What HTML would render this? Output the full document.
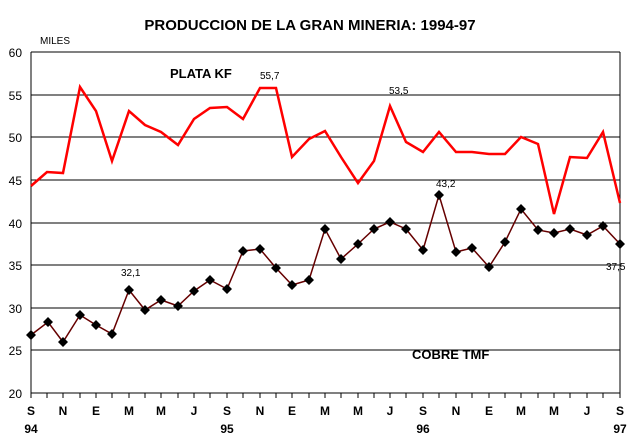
<!DOCTYPE html><html><head><style>body{margin:0;background:#fff}svg{display:block}text{font-family:"Liberation Sans",Arial,sans-serif}</style></head><body>
<svg width="641" height="444" viewBox="0 0 641 444">
<text x="310" y="30" font-size="15" font-weight="bold" text-anchor="middle">PRODUCCION DE LA GRAN MINERIA: 1994-97</text>
<text x="40" y="44" font-size="10">MILES</text>
<g stroke="#000" stroke-width="1">
<line x1="31" y1="52" x2="620" y2="52"/><line x1="31" y1="95" x2="620" y2="95"/><line x1="31" y1="137" x2="620" y2="137"/><line x1="31" y1="180" x2="620" y2="180"/><line x1="31" y1="223" x2="620" y2="223"/><line x1="31" y1="265" x2="620" y2="265"/><line x1="31" y1="308" x2="620" y2="308"/><line x1="31" y1="350" x2="620" y2="350"/>
<line x1="31" y1="52" x2="31" y2="393"/><line x1="620" y1="52" x2="620" y2="393"/><line x1="31" y1="393" x2="620" y2="393"/>
</g>
<g font-size="12" text-anchor="end"><text x="22" y="57">60</text><text x="22" y="100">55</text><text x="22" y="142">50</text><text x="22" y="185">45</text><text x="22" y="228">40</text><text x="22" y="270">35</text><text x="22" y="313">30</text><text x="22" y="355">25</text><text x="22" y="398">20</text></g>
<g id="ticks" stroke="#000"></g>
<g font-size="12" font-weight="bold" text-anchor="middle">
<text x="31" y="415">S</text><text x="63" y="415">N</text><text x="96" y="415">E</text><text x="129" y="415">M</text><text x="161" y="415">M</text><text x="194" y="415">J</text><text x="227" y="415">S</text><text x="260" y="415">N</text><text x="292" y="415">E</text><text x="325" y="415">M</text><text x="358" y="415">M</text><text x="390" y="415">J</text><text x="423" y="415">S</text><text x="456" y="415">N</text><text x="489" y="415">E</text><text x="521" y="415">M</text><text x="554" y="415">M</text><text x="587" y="415">J</text><text x="620" y="415">S</text>
<text x="31" y="433">94</text><text x="227" y="433">95</text><text x="423" y="433">96</text><text x="620" y="433">97</text></g>
<path d="M31 393V398M47 393V398M63 393V398M80 393V398M96 393V398M112 393V398M129 393V398M145 393V398M161 393V398M178 393V398M194 393V398M210 393V398M227 393V398M243 393V398M260 393V398M276 393V398M292 393V398M309 393V398M325 393V398M341 393V398M358 393V398M374 393V398M390 393V398M406 393V398M423 393V398M439 393V398M456 393V398M472 393V398M489 393V398M505 393V398M521 393V398M538 393V398M554 393V398M570 393V398M587 393V398M603 393V398M620 393V398" stroke="#000"/>
<polyline fill="none" stroke="#f00" stroke-width="2.5" points="31,186 47,172 63,173 80,87 96,111 112,161 129,111 145,125 161,132 178,145 194,119 210,108 227,107 243,119 260,88 276,88 292,157 309,139 325,131 341,157 358,183 374,161 390,106 406,142 423,152 439,132 456,152 472,152 489,154 505,154 521,137 538,144 554,214 570,157 587,158 603,132 620,203"/>
<polyline id="cu" fill="none" stroke="#600" stroke-width="1.5" points="31,335 48,322 63,342 80,315 96,325 112,334 129,290 145,310 161,300 178,306 194,291 210,280 227,289 243,251 260,249 276,268 292,285 309,280 325,229 341,259 358,244 374,229 390,222 406,229 423,250 439,195 456,252 472,248 489,267 505,242 521,209 538,230 554,233 570,229 587,235 603,226 620,244"/>
<g fill="#000">
<path d="M31 330l5 5-5 5-5-5zM48 317l5 5-5 5-5-5zM63 337l5 5-5 5-5-5zM80 310l5 5-5 5-5-5zM96 320l5 5-5 5-5-5zM112 329l5 5-5 5-5-5zM129 285l5 5-5 5-5-5zM145 305l5 5-5 5-5-5zM161 295l5 5-5 5-5-5zM178 301l5 5-5 5-5-5zM194 286l5 5-5 5-5-5zM210 275l5 5-5 5-5-5zM227 284l5 5-5 5-5-5zM243 246l5 5-5 5-5-5zM260 244l5 5-5 5-5-5zM276 263l5 5-5 5-5-5zM292 280l5 5-5 5-5-5zM309 275l5 5-5 5-5-5zM325 224l5 5-5 5-5-5zM341 254l5 5-5 5-5-5zM358 239l5 5-5 5-5-5zM374 224l5 5-5 5-5-5zM390 217l5 5-5 5-5-5zM406 224l5 5-5 5-5-5zM423 245l5 5-5 5-5-5zM439 190l5 5-5 5-5-5zM456 247l5 5-5 5-5-5zM472 243l5 5-5 5-5-5zM489 262l5 5-5 5-5-5zM505 237l5 5-5 5-5-5zM521 204l5 5-5 5-5-5zM538 225l5 5-5 5-5-5zM554 228l5 5-5 5-5-5zM570 224l5 5-5 5-5-5zM587 230l5 5-5 5-5-5zM603 221l5 5-5 5-5-5zM620 239l5 5-5 5-5-5z"/>
</g>
<text x="170" y="78" font-size="13" font-weight="bold">PLATA KF</text>
<text x="412" y="359" font-size="13" font-weight="bold">COBRE TMF</text>
<g font-size="10"><text x="260" y="79">55,7</text><text x="389" y="94">53,5</text><text x="436" y="187">43,2</text><text x="121" y="276">32,1</text><text x="606" y="270">37,5</text></g>
</svg></body></html>
